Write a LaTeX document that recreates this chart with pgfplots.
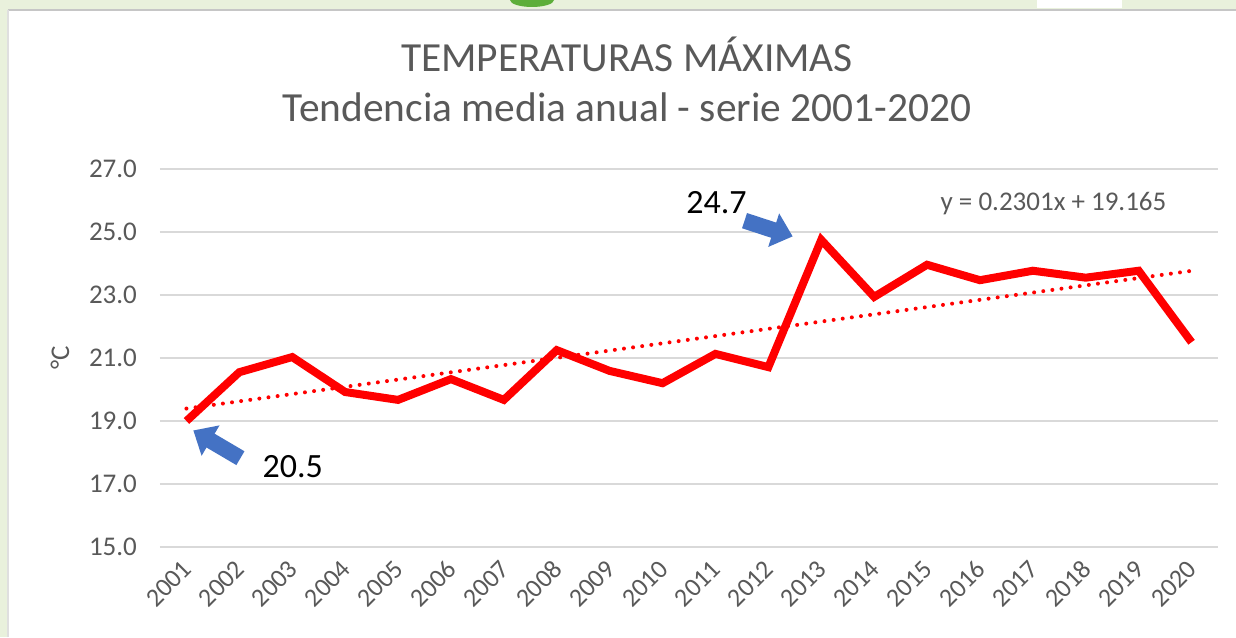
\documentclass[border=0pt]{standalone}
\usepackage{pgfplots}
\pgfplotsset{compat=1.18}
\usepackage{fontspec}
\setmainfont{Carlito}
\usetikzlibrary{arrows.meta}
\definecolor{bggreen}{HTML}{E9F1DC}
\definecolor{txtgray}{HTML}{595959}
\definecolor{gridgray}{HTML}{D9D9D9}
\definecolor{arrowblue}{HTML}{4472C4}
\definecolor{logogreen}{HTML}{5DAE3A}

\begin{document}
\begin{tikzpicture}
% page frame: 1 px of the reference = 0.5pt, axis box corner at px (160,547)
\path[use as bounding box] (-80pt,-45pt) rectangle (538pt,273.5pt);
\clip (-80pt,-45pt) rectangle (538pt,273.5pt);
\fill[bggreen] (-80pt,-45pt) rectangle (538pt,273.5pt);
\fill[logogreen] (186pt,273.5pt) ellipse (11pt and 3.5pt);
\fill[white] (438.5pt,269.5pt) rectangle (481pt,273.5pt);
\fill[white] (-76pt,-45pt) rectangle (538pt,268.5pt);
\draw[gray!45, line width=0.8pt] (-76pt,268.5pt) -- (538pt,268.5pt);
\draw[gray!25, line width=0.6pt] (-76pt,-45pt) -- (-76pt,268.5pt);

\begin{axis}[
    at={(0,0)}, anchor=south west,
    scale only axis,
    width=529pt, height=189pt,
    xmin=2000.5, xmax=2020.5,
    ymin=15, ymax=27,
    xtick={2001,2002,...,2020},
    ytick={15,17,...,27},
    axis line style={draw=none},
    major tick length=0pt,
    ymajorgrids,
    grid style={gridgray, line width=1pt},
    tick label style={font=\fontsize{13.5}{16}\selectfont, text=txtgray},
    xticklabel style={font=\fontsize{13}{15}\selectfont, rotate=45, anchor=east,
        xshift=-2.5pt, yshift=-6.7pt, /pgf/number format/1000 sep={}},
    yticklabel style={xshift=-8pt, /pgf/number format/.cd, fixed, fixed zerofill, precision=1},
    /pgf/number format/assume math mode=true,
    ylabel={°C},
    ylabel style={at={(axis description cs:-0.0945,0.5)}, anchor=center,
        font=\fontsize{13.5}{16}\selectfont, text=txtgray},
    clip=false,
]
% trendline y = 0.2301x + 19.165 (x = 1..20)
\addplot[red, line width=2pt, line cap=round, dash pattern=on 0pt off 4.6pt]
    coordinates {(2001,19.395) (2020,23.767)};
% annual mean of maximum temperatures
\addplot[red, line width=4pt, line join=miter] coordinates {
    (2001,19.00) (2002,20.55) (2003,21.03) (2004,19.92) (2005,19.67)
    (2006,20.33) (2007,19.67) (2008,21.25) (2009,20.59) (2010,20.20)
    (2011,21.13) (2012,20.71) (2013,24.75) (2014,22.94) (2015,23.96)
    (2016,23.47) (2017,23.77) (2018,23.55) (2019,23.77) (2020,21.50)
};
% callouts
\draw[arrowblue, line width=8pt, -{Triangle[width=17pt, length=10pt]}]
    (axis cs:2002.02,17.82) -- (axis cs:2001.13,18.70);
\draw[arrowblue, line width=8pt, -{Triangle[width=17pt, length=10pt]}]
    (axis cs:2011.55,25.36) -- (axis cs:2012.46,24.86);
\node[font=\fontsize{17}{20}\selectfont] at (axis cs:2003.01,17.54) {20.5};
\node[font=\fontsize{17}{20}\selectfont] at (axis cs:2011.02,25.92) {24.7};
\node[font=\fontsize{13.5}{16}\selectfont, text=txtgray] at (axis cs:2017.39,25.89)
    {y = 0.2301x + 19.165};
\end{axis}

\node[font=\fontsize{20.7}{25}\selectfont, text=txtgray] at (233.5pt,246.5pt)
    {TEMPERATURAS MÁXIMAS};
\node[font=\fontsize{20.7}{25}\selectfont, text=txtgray] at (233.5pt,220pt)
    {Tendencia media anual - serie 2001-2020};
\end{tikzpicture}
\end{document}
